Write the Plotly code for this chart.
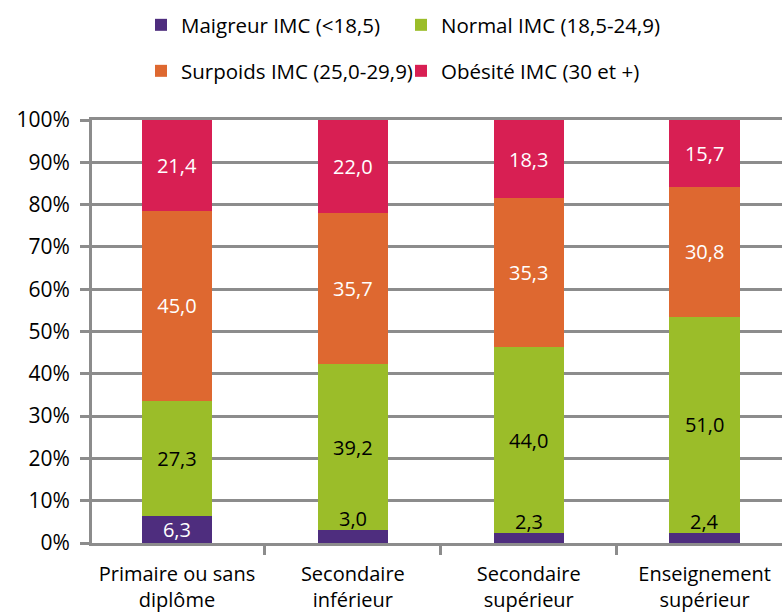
import plotly.graph_objects as go

categories = ["Primaire ou sans<br>diplôme", "Secondaire<br>inférieur", "Secondaire<br>supérieur", "Enseignement<br>supérieur"]
maigreur = [6.3, 3.0, 2.3, 2.4]
normal = [27.3, 39.2, 44.0, 51.0]
surpoids = [45.0, 35.7, 35.3, 30.8]
obesite = [21.4, 22.0, 18.3, 15.7]
ytick_vals = [0, 10, 20, 30, 40, 50, 60, 70, 80, 90, 100]
ytick_text = [f"{v}%" for v in ytick_vals]

FONT = "Open Sans"
GREY = "#8c8c8c"

def fmt(v):
    return f"{v:.1f}".replace(".", ",")

SMALL = 5.0

fig = go.Figure()
series = [
    ("Maigreur IMC (<18,5)", maigreur, "#4E2D7E", "white", "legend"),
    ("Normal IMC (18,5-24,9)", normal, "#9BBD29", "black", "legend"),
    ("Surpoids IMC (25,0-29,9)", surpoids, "#DE6830", "white", "legend2"),
    ("Obésité IMC (30 et +)", obesite, "#D81F53", "white", "legend2"),
]
for name, vals, color, tcol, leg in series:
    texts = [fmt(v) if v >= SMALL else "" for v in vals]
    fig.add_trace(go.Bar(
        x=categories, y=vals, name=name,
        marker=dict(color=color, line=dict(width=0)),
        text=texts, texttemplate="%{text}", textposition="inside",
        insidetextanchor="middle", constraintext="none",
        textfont=dict(family=FONT, size=20, color=tcol),
        legend=leg, hoverinfo="skip",
    ))

# small values labelled just above the thin segment
for cat, v in zip(categories, maigreur):
    if v < SMALL:
        fig.add_annotation(x=cat, y=v + 2.7, text=fmt(v), showarrow=False,
                           yanchor="middle", font=dict(family=FONT, size=20, color="black"))

LEGEND_FONT = dict(family=FONT, size=20.5, color="black")
fig.update_layout(
    width=782, height=613,
    barmode="stack", bargap=0.6,
    plot_bgcolor="white", paper_bgcolor="white",
    margin=dict(l=92, r=0, t=120, b=70, autoexpand=False),
    font=dict(family=FONT, size=20, color="black"),
    legend=dict(orientation="h", xref="container", yref="container",
                x=141/782, y=1-25/613, xanchor="left", yanchor="middle",
                entrywidth=215, entrywidthmode="pixels", traceorder="normal",
                font=LEGEND_FONT, bgcolor="rgba(0,0,0,0)"),
    legend2=dict(orientation="h", xref="container", yref="container",
                 x=141/782, y=1-71/613, xanchor="left", yanchor="middle",
                 entrywidth=215, entrywidthmode="pixels", traceorder="normal",
                 font=LEGEND_FONT, bgcolor="rgba(0,0,0,0)"),
    showlegend=True,
)
fig.update_yaxes(range=[0, 100], tickvals=ytick_vals, ticktext=ytick_text,
                 showgrid=True, gridcolor=GREY, gridwidth=3,
                 showline=True, linecolor=GREY, linewidth=3,
                 ticks="outside", ticklen=9, tickwidth=3, tickcolor=GREY,
                 ticklabelstandoff=6, automargin=False,
                 tickfont=dict(family=FONT, size=21, color="black"),
                 zeroline=False, fixedrange=True)
fig.update_xaxes(type="category", range=[-0.483, 3.44],
                 showgrid=False, showline=True, linecolor=GREY, linewidth=3,
                 mirror=True, automargin=False,
                 ticks="outside", tickson="boundaries", ticklen=9, tickwidth=3, tickcolor=GREY,
                 ticklabelstandoff=11,
                 tickfont=dict(family=FONT, size=20, color="black"), fixedrange=True)

fig.write_html("out.html", config={"displayModeBar": False},
               post_script="document.body.style.margin='0';")
